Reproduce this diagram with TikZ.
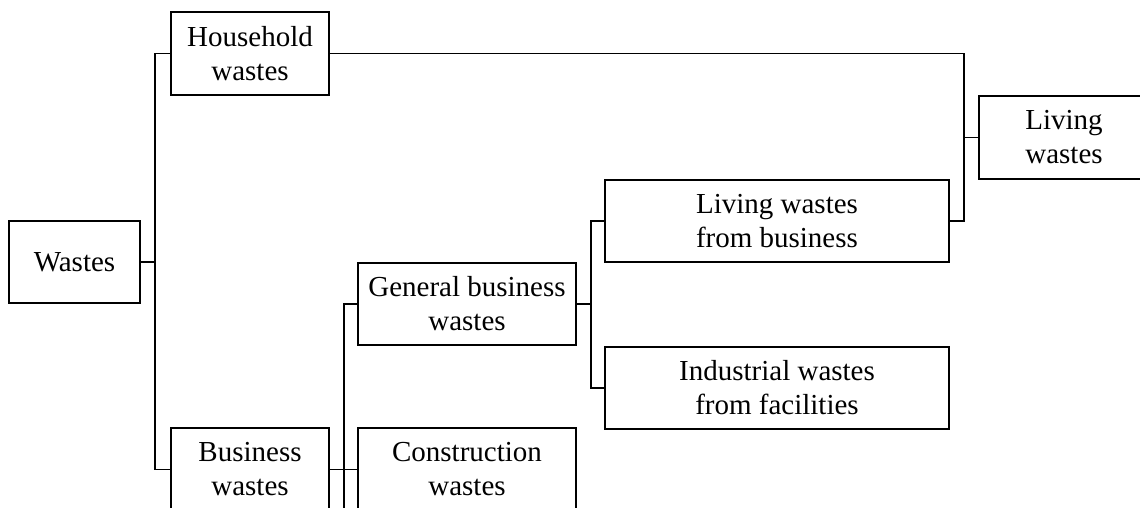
\documentclass[tikz,border=0pt]{standalone}
\usepackage{fontspec}
\setmainfont{Liberation Serif}
\begin{document}
\begin{tikzpicture}[x=1pt,y=-1pt,line width=1.3pt,
  box/.style={draw,inner sep=0pt,align=center,font=\fontsize{29}{34}\selectfont},
  conn/.style={draw,line width=1.3pt}]
\useasboundingbox (0,0) rectangle (1140,507);
\clip (0,0) rectangle (1140,507);
% boxes
\node[box,minimum width=131pt,minimum height=82pt] (wastes) at (74.5,262) {Wastes};
\node[box,minimum width=158pt,minimum height=83pt] (household) at (250,53.5) {Household\\wastes};
\node[box,minimum width=170pt,minimum height=83pt] (living) at (1064,137.5) {Living\\wastes};
\node[box,minimum width=344pt,minimum height=82pt] (lwb) at (777,221) {Living wastes\\from business};
\node[box,minimum width=218pt,minimum height=82pt] (gbw) at (467,304) {General business\\wastes};
\node[box,minimum width=344pt,minimum height=82pt] (iwf) at (777,388) {Industrial wastes\\from facilities};
\node[box,minimum width=158pt,minimum height=83pt] (bw) at (250,469.5) {Business\\wastes};
\node[box,minimum width=218pt,minimum height=83pt] (cw) at (467,469.5) {Construction\\wastes};
% junctions
\coordinate (jA) at (155,262);
\coordinate (jB) at (964,221);
\coordinate (jC) at (591,304);
\coordinate (jD) at (344,469.5);
\coordinate (jEnd) at (344,510);
% connectors
\draw[conn] (wastes.east) -- (jA);
\draw[conn] (household.west) -| (jA) |- (bw.west);
\draw[conn] (household.east) -| (jB) -- (lwb.east);
\draw[conn] (living.west) -- (living.west -| jB);
\draw[conn] (gbw.east) -- (jC);
\draw[conn] (lwb.west) -| (jC) |- (iwf.west);
\draw[conn] (bw.east) -- (jD) -- (cw.west);
\draw[conn] (gbw.west) -| (jD) -- (jEnd);
\end{tikzpicture}
\end{document}
